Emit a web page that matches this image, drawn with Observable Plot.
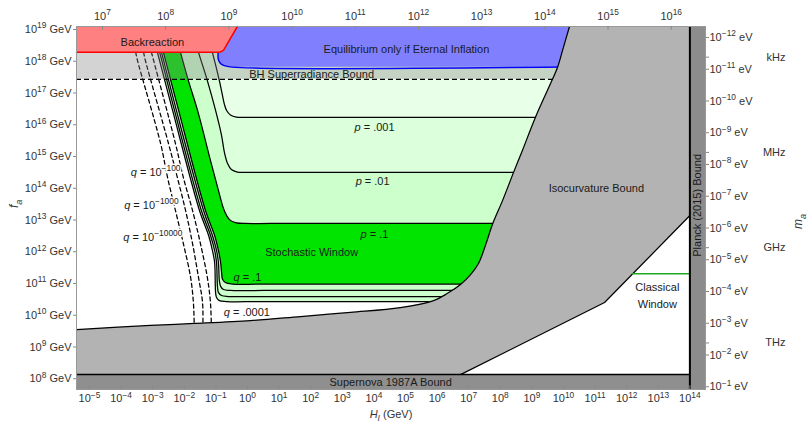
<!DOCTYPE html>
<html><head><meta charset="utf-8">
<script src="https://cdn.jsdelivr.net/npm/d3@7"></script>
<script src="https://cdn.jsdelivr.net/npm/@observablehq/plot@0.6"></script>
<style>body{margin:0;background:#fff;} svg{display:block}</style>
</head><body>
<div id="chart"></div>
<script>
// ---- axes (log10 units) ----
const xDom = [-5.411, 14.494];          // log10 H_I (GeV)
const yDom = [7.661, 19.094];           // log10 f_a (GeV)
const bottomExp = d3.range(-5, 15);
const leftExp = d3.range(8, 20);
const topExp = d3.range(7, 17);
const rightExp = d3.range(-12, 0);
const freqLabels = ["kHz", "MHz", "GHz", "THz"];
const freqLogM = [-11.38, -8.38, -5.38, -2.38];
const topOffset = 18.59;   // log H = 2 log T - 18.59
const massOffset = 6.748;  // log f = 6.748 - log m

// ---- q contours (log H, log f) ----
const q1H = [-2.72,-2.66,-2.18,-1.33,-1.04,-0.92,-0.85,-0.82,-0.79,-0.70,-0.47,0.5,9.5,10.0];
const q1F = [18.50,18.28,16.45,13.30,12.51,12.04,11.66,11.35,11.13,11.03,10.98,10.98,10.98,10.98];
const q2H = [-2.78,-2.72,-2.25,-1.39,-1.11,-0.98,-0.92,-0.89,-0.85,-0.76,-0.54,0.5,9.5,10.0];
const q2F = [18.50,18.28,16.45,13.30,12.51,12.04,11.66,11.09,10.91,10.81,10.78,10.78,10.78,10.78];
const q3H = [-2.85,-2.78,-2.31,-1.46,-1.17,-1.04,-0.98,-0.95,-0.92,-0.82,-0.60,0.5,9.5,10.0];
const q3F = [18.50,18.28,16.45,13.30,12.51,12.04,11.66,10.91,10.72,10.62,10.59,10.59,10.59,10.59];
const q4H = [-2.91,-2.85,-2.37,-1.52,-1.23,-1.11,-1.04,-1.01,-0.98,-0.89,-0.66,0.5,9.5,10.0];
const q4F = [18.50,18.28,16.45,13.30,12.51,12.04,11.66,10.72,10.56,10.46,10.43,10.43,10.43,10.43];
// ---- p contours ----
const p1H = [-2.18,-2.12,-1.87,-1.58,-1.17,-0.92,-0.76,-0.66,-0.54,-0.35,-0.06,0.73,9.5,10.0];
const p1F = [18.50,18.28,17.39,16.45,14.87,13.93,13.36,13.14,12.98,12.91,12.89,12.89,12.89,12.89];
const p2H = [-1.61,-1.55,-1.27,-1.01,-0.82,-0.73,-0.63,-0.51,-0.32,-0.06,0.73,9.5,10.0];
const p2F = [18.50,18.28,17.39,16.45,15.66,15.13,14.78,14.59,14.51,14.50,14.50,14.50,14.50];
const p3H = [-1.17,-1.11,-0.89,-0.79,-0.73,-0.66,-0.54,-0.35,-0.06,0.73,9.5,10.0];
const p3F = [18.50,18.28,17.39,16.92,16.64,16.45,16.31,16.24,16.23,16.23,16.23,16.23];
// ---- dashed q contours (10^-100, 10^-1000, 10^-10000) ----
const dashF  = [18.50,18.28,18.02,15.41,14.34,13.30,12.26,11.19,10.37,9.36];
const dRH = [-3.10,-3.04,-2.97,-2.28,-2.03,-1.74,-1.49,-1.27,-1.17,-1.14];
const dMH = [-3.35,-3.29,-3.23,-2.50,-2.22,-1.96,-1.74,-1.55,-1.42,-1.42];
const dLH = [-3.61,-3.54,-3.48,-2.75,-2.53,-2.28,-2.03,-1.80,-1.71,-1.68];
// ---- isocurvature boundary ----
const lowH = [-5.411,-3.07,-1.68,0.09,1.68,3.26,4.84,5.89,6.33,6.74,7.06,7.31,7.53,7.75,8.07,8.42,8.70,9.11,9.65,9.81,9.97,10.19];
const lowF = [9.55,9.68,9.74,9.83,9.96,10.09,10.24,10.46,10.69,10.97,11.28,11.63,12.20,12.86,13.61,14.50,15.19,16.23,17.43,17.80,18.34,19.094];
const clsH = [6.74, 11.30, 14.0];
const clsF = [8.13, 10.40, 13.14];
const clGreenH = [12.18, 14.0];
const clGreenF = [11.31, 11.31];
// ---- bounds ----
const snF = 8.13;          // Supernova 1987A
const planckH = 14.0;      // Planck (2015)
const bhF = [17.43, 18.28];// BH superradiance band
const redH = [-5.411,-0.32,-0.76,-0.86,-0.92,-5.411];
const redF = [19.094,19.094,18.34,18.29,18.28,18.28];
const redEdgeH = [-5.411,-0.92,-0.86,-0.76,-0.32];
const redEdgeF = [18.28,18.28,18.29,18.34,19.094];
const blueH = [-0.32,-0.76,-0.93,-0.92,-0.82,-0.60,10.5,10.5];
const blueF = [19.094,18.34,18.24,18.05,17.90,17.83,17.83,19.094];
const blueEdgeH = [-0.93,-0.92,-0.82,-0.60,10.5];
const blueEdgeF = [18.24,18.05,17.90,17.83,17.83];
// light-green closure hidden under the isocurvature region
const hiddenH = [10.2, 10.4, 10.5, 10.5];
const hiddenF = [14.0, 18.0, 19.094, 19.3];

const labels = [
  {t:"Backreaction", x:-3.01, y:18.59},
  {t:"Equilibrium only if Eternal Inflation", x:5.03, y:18.37},
  {t:"BH Superradiance Bound", x:2.03, y:17.58},
  {t:"*p* = .001", x:4.02, y:15.91},
  {t:"*p* = .01", x:3.96, y:14.21},
  {t:"*p* = .1", x:4.02, y:12.54},
  {t:"Stochastic Window", x:2.03, y:11.98},
  {t:"*q* = .1", x:0.0, y:11.19},
  {t:"*q* = .0001", x:-0.02, y:10.09},
  {t:"Isocurvature Bound", x:11.04, y:13.99},
  {t:"Classical", x:12.97, y:10.87},
  {t:"Window", x:12.97, y:10.34},
  {t:"Supernova 1987A Bound", x:4.53, y:7.88}
];
const qLabels = [
  {t:"*q* = 10^{−100}", x:-2.12, y:14.50},
  {t:"*q* = 10^{−1000}", x:-2.18, y:13.46},
  {t:"*q* = 10^{−10000}", x:-2.06, y:12.45}
];

const P = (H, F) => H.map((h, i) => ({x: h, y: F[i]}));
const fmtE = e => String(e).replace("-", "−");

const polyE = [...P(q4H,q4F), ...P(hiddenH,hiddenF), {x:-2.91, y:19.3}];
const polyD = [...P(q4H,q4F), ...P(p3H,p3F).reverse()];
const polyC = [...P(q4H,q4F), ...P(p2H,p2F).reverse()];
const polyA = [...P(q1H,q1F), ...P(p1H,p1F).reverse()];
const isoPoly = [...P(lowH,lowF).reverse(), {x:xDom[0], y:snF}, ...P(clsH,clsF), {x:planckH, y:yDom[1]}];

const cr = "catmull-rom";
const black = {x:"x", y:"y", stroke:"black", strokeWidth:1.25, curve:cr};
const fillOpt = (c, curve=cr) => ({x:"x", y:"y", fill:c, stroke:"none", curve, clip:true});
const FONT = "'Liberation Sans', Arial, Helvetica, sans-serif";

const chart = Plot.plot({
  width: 809, height: 426,
  marginLeft: 76, marginRight: 104, marginTop: 26, marginBottom: 37,
  x: {domain: xDom, label: null},
  y: {domain: yDom, label: null},
  style: {fontFamily: FONT, fontSize: "11px", color: "#333", background: "white", overflow: "visible"},
  marks: [
    Plot.line(polyE, fillOpt("#e8ffe8")),
    Plot.line(polyD, fillOpt("#dcffdc")),
    Plot.line(polyC, fillOpt("#ccffcc")),
    Plot.line(polyA, fillOpt("#00e400")),
    Plot.line(P(q4H,q4F), black),
    Plot.line(P(q3H,q3F), black),
    Plot.line(P(q2H,q2F), black),
    Plot.line(P(q1H,q1F), black),
    Plot.line(P(p1H,p1F), black),
    Plot.line(P(p2H,p2F), black),
    Plot.line(P(p3H,p3F), black),
    Plot.line(P(dRH,dashF), {...black, strokeDasharray:"4,3"}),
    Plot.line(P(dMH,dashF), {...black, strokeDasharray:"4,3"}),
    Plot.line(P(dLH,dashF), {...black, strokeDasharray:"4,3"}),
    // BH superradiance band
    Plot.rect([0], {x1: xDom[0], x2: planckH, y1: bhF[0], y2: bhF[1], fill:"#808080", fillOpacity:0.35}),
    Plot.ruleY([bhF[0]], {x1: xDom[0], x2: 10.5, stroke:"black", strokeWidth:1.1, strokeDasharray:"5,3"}),
    // Eternal inflation
    Plot.line(P(blueH,blueF), fillOpt("#8080ff", "linear")),
    Plot.line(P(blueEdgeH,blueEdgeF), {x:"x", y:"y", stroke:"#0000ff", strokeWidth:1.5, curve:cr}),
    // Backreaction
    Plot.line(P(redH,redF), fillOpt("#ff8080", "linear")),
    Plot.line(P(redEdgeH,redEdgeF), {x:"x", y:"y", stroke:"#ff0000", strokeWidth:1.5}),
    // Isocurvature
    Plot.line(isoPoly, fillOpt("#b3b3b3", "linear")),
    Plot.line(P(lowH,lowF), black),
    Plot.line(P(clsH,clsF), {x:"x", y:"y", stroke:"black", strokeWidth:1.25}),
    Plot.line(P(clGreenH,clGreenF), {x:"x", y:"y", stroke:"#1faa1f", strokeWidth:1.5}),
    // Supernova & Planck
    Plot.rect([0], {x1: xDom[0], x2: xDom[1], y1: yDom[0], y2: snF, fill:"#8f8f8f"}),
    Plot.rect([0], {x1: planckH, x2: xDom[1], y1: yDom[0], y2: yDom[1], fill:"#8c8c8c"}),
    Plot.ruleY([snF], {x1: xDom[0], x2: planckH, stroke:"black", strokeWidth:1.5}),
    Plot.ruleX([planckH], {y1: yDom[0], y2: yDom[1], stroke:"black", strokeWidth:2}),
    // labels
    Plot.text(labels, {x:"x", y:"y", text:"t", fill:"#1a1a1a", fontSize:11}),
    Plot.text(qLabels, {x:"x", y:"y", text:"t", fill:"#1a1a1a", fontSize:11, textAnchor:"end", stroke:"white", strokeWidth:3}),
    Plot.text(["Planck (2015) Bound"], {x: () => 14.25, y: () => 13.46, text: d => d, rotate:-90, fill:"#1a1a1a", fontSize:11}),
    // frame & axes
    Plot.frame({stroke:"#999"}),
    Plot.axisX({anchor:"bottom", ticks: bottomExp, tickFormat: d => `10^{${fmtE(d)}}`, tickSize:0, tickPadding:5, label:null, fill:"#333"}),
    Plot.ruleX(bottomExp, {x: d => d, y1: yDom[0], y2: yDom[0] + 0.12, stroke:"#888"}),
    Plot.axisX({anchor:"top", ticks: topExp.map(e => 2*e - topOffset), tickFormat: v => `10^{${fmtE(Math.round((v + topOffset)/2))}}`, tickSize:0, tickPadding:7, label:null, fill:"#333"}),
    Plot.ruleX(topExp, {x: e => 2*e - topOffset, y1: yDom[1] - 0.12, y2: yDom[1], stroke:"#888"}),
    Plot.axisY({anchor:"left", ticks: leftExp, tickFormat: d => `10^{${d}} GeV`, tickSize:3, tickPadding:2, label:null, stroke:"#888", fill:"#333"}),
    Plot.axisY({anchor:"right", ticks: rightExp.map(e => massOffset - e), tickFormat: v => `10^{${fmtE(Math.round(massOffset - v))}} eV`, tickSize:3, tickPadding:1, label:null, stroke:"#888", fill:"#333"}),
    Plot.axisY({anchor:"right", ticks: freqLogM.map(m => massOffset - m), tickFormat: () => "", tickSize:3, label:null, stroke:"#888"}),
    Plot.text(freqLabels, {y: (d, i) => massOffset - freqLogM[i], text: d => d, frameAnchor:"right", dx:80, fill:"#333"}),
    Plot.text(["*f_{a}*"], {text: d => d, frameAnchor:"left", dx:-62, rotate:-90, fill:"#333", fontSize:12}),
    Plot.text(["*m_{a}*"], {text: d => d, frameAnchor:"right", dx:93, dy:6, rotate:-90, fill:"#333", fontSize:12}),
    Plot.text(["*H_{I}* (GeV)"], {text: d => d, frameAnchor:"bottom", dy:28, fill:"#333", fontSize:11})
  ]
});
document.getElementById("chart").appendChild(chart);

// rich text: *italic*, ^{sup}, _{sub}
function richify(root) {
  const NS = "http://www.w3.org/2000/svg";
  root.querySelectorAll("text").forEach(t => {
    const s = t.textContent;
    if (!/[\^_*]/.test(s)) return;
    const fs = parseFloat(getComputedStyle(t).fontSize) || 11;
    const runs = [];
    let i = 0, italic = false, buf = "";
    const push = () => { if (buf) runs.push({text: buf, mode: "n", italic}); buf = ""; };
    while (i < s.length) {
      const c = s[i];
      if (c === "*") { push(); italic = !italic; i++; continue; }
      if ((c === "^" || c === "_") && s[i+1] === "{") {
        push();
        const j = s.indexOf("}", i + 2);
        runs.push({text: s.slice(i+2, j), mode: c === "^" ? "sup" : "sub", italic});
        i = j + 1; continue;
      }
      buf += c; i++;
    }
    push();
    while (t.firstChild) t.removeChild(t.firstChild);
    let cur = 0;
    for (const r of runs) {
      const ts = document.createElementNS(NS, "tspan");
      const target = r.mode === "sup" ? -0.42 * fs : r.mode === "sub" ? 0.3 * fs : 0;
      if (target !== cur) { ts.setAttribute("dy", (target - cur).toFixed(2)); cur = target; }
      if (r.mode !== "n") ts.setAttribute("font-size", (0.76 * fs).toFixed(1));
      if (r.italic) ts.setAttribute("font-style", "italic");
      ts.textContent = r.text;
      t.appendChild(ts);
    }
  });
}
richify(chart);
</script>
</body></html>
